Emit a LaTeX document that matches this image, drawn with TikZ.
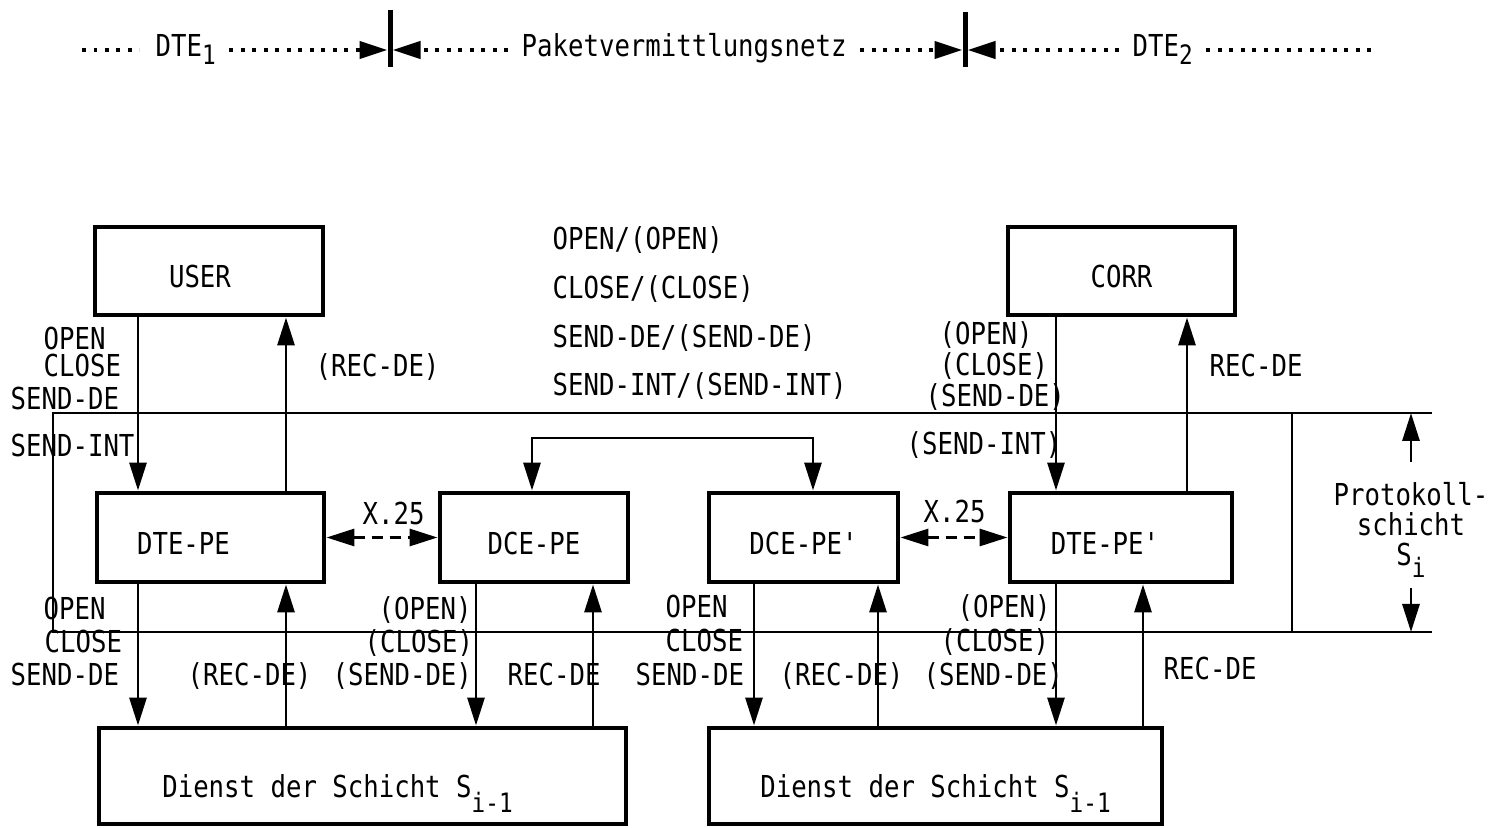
\documentclass[tikz,border=0pt]{standalone}
\usepackage{fontspec}
\setmonofont{DejaVu Sans Mono}[FakeStretch=0.85]
\usetikzlibrary{arrows.meta, positioning}

\newcommand{\tief}[2][1.5mm]{\raisebox{-#1}{\fontsize{7.6}{8}\selectfont #2}}

\tikzset{
  block/.style={draw, line width=1.4pt, inner sep=0pt, text height=3.6mm, text depth=0.2mm},
  dienst/.style={block, minimum height=9.6mm, text height=4.4mm},
  lbl/.style={inner sep=0pt, anchor=base west},
  toplbl/.style={inner xsep=1.3mm, inner ysep=0pt, anchor=base west},
  conn/.style={line width=0.85pt},
  layer/.style={line width=0.75pt},
  dotline/.style={line width=0.4mm, dash pattern=on 0.4mm off 0.75mm, shorten >=0.25mm},
  xfuenf/.style={conn, dash pattern=on 1.1mm off 0.7mm},
}

\begin{document}
\begin{tikzpicture}[x=0.1mm, y=-0.1mm, >={Triangle[length=2.8mm,width=1.7mm]},
    every node/.style={font=\ttfamily\fontsize{8.6}{9}\selectfont}]
    \useasboundingbox (0,0) rectangle (1510,828);

    % Kopfzeile DTE / Netz / DTE
    \coordinate (ya) at (0,50);
    \coordinate (d0) at (82,50);
    \coordinate (barA) at (390,50);
    \coordinate (barB) at (965,50);
    \coordinate (d9) at (1377,50);
    \node[toplbl] (dteA) at (142,57) {DTE\tief[0.8mm]{1}};
    \node[toplbl] (netz) at (508,57) {Paketvermittlungsnetz};
    \node[toplbl] (dteB) at (1119,57) {DTE\tief[0.8mm]{2}};
    \draw[dotline] (d0) -- (dteA.west |- ya);
    \draw[dotline,->] (dteA.east |- ya) -- (barA);
    \draw[dotline,->] (netz.west |- ya) -- (barA);
    \draw[dotline,->] (netz.east |- ya) -- (barB);
    \draw[dotline,->] (dteB.west |- ya) -- (barB);
    \draw[dotline] (dteB.east |- ya) -- (d9);
    \draw[line width=0.5mm] (barA) ++(0,-40) -- ++(0,57);
    \draw[line width=0.5mm] (barB) ++(0,-38) -- ++(0,55);

    % Kaesten
    \node[block, minimum width=22.8mm, minimum height=8.8mm] (user) at (209,271) {USER\hspace*{1.8mm}};
    \node[block, minimum width=22.7mm, minimum height=8.8mm] (corr) at (1121.5,271) {CORR};
    \node[block, minimum width=22.7mm, minimum height=8.9mm] (dtepe) at (210.5,537.5) {DTE-PE\hspace*{5.4mm}};
    \node[block, minimum width=18.8mm, minimum height=8.9mm] (dcepe) at (534,537.5) {DCE-PE};
    \node[block, minimum width=18.9mm, minimum height=8.9mm] (dcepeB) at (803.5,537.5) {DCE-PE'};
    \node[block, minimum width=22.2mm, minimum height=8.9mm] (dtepeB) at (1121,537.5) {DTE-PE'\hspace*{3.2mm}};
    \node[dienst, minimum width=52.7mm] (dienstA) at (362.5,776) {Dienst der Schicht S\tief{i-1}\hspace*{5mm}};
    \node[dienst, minimum width=45.3mm] (dienstB) at (935.5,776) {Dienst der Schicht S\tief{i-1}};

    % Protokollschicht
    \coordinate (lt) at (53,413);
    \coordinate (rt) at (1432,413);
    \coordinate (lb) at (53,632);
    \coordinate (rb) at (1432,632);
    \coordinate (vr) at (1292,0);
    \coordinate (pa) at (1411,462);
    \coordinate (pb) at (1411,588);
    \draw[layer] (rt) -- (lt) -- (lb) -- (rb);
    \draw[layer] (lt -| vr) -- (lb -| vr);
    \draw[conn,->] (pa) -- (pa |- lt);
    \draw[conn,->] (pb) -- (pb |- lb);
    \node[align=center, inner sep=0pt, font=\ttfamily\fontsize{8.6}{8.6}\selectfont] (proto) at (1411,530) {Protokoll-\\schicht\\S\tief[1.2mm]{i}};

    % Spalten der Pfeile
    \coordinate (xa) at (138,0);
    \coordinate (xb) at (286,0);
    \coordinate (xc) at (476,0);
    \coordinate (xd) at (593,0);
    \coordinate (xe) at (754,0);
    \coordinate (xf) at (878,0);
    \coordinate (xg) at (1056,0);
    \coordinate (xh) at (1187,0);
    \coordinate (xi) at (1143,0);
    \coordinate (xj) at (532,0);
    \coordinate (xk) at (813,0);
    \coordinate (bridge) at (672,438);

    \draw[conn,->] (user.south -| xa) -- (dtepe.north -| xa);
    \draw[conn,->] (dtepe.north -| xb) -- (user.south -| xb);
    \draw[conn,->] (corr.south -| xg) -- (dtepeB.north -| xg);
    \draw[conn,->] (dtepeB.north -| xh) -- (corr.south -| xh);
    \draw[conn,->] (dtepe.south -| xa) -- (dienstA.north -| xa);
    \draw[conn,->] (dienstA.north -| xb) -- (dtepe.south -| xb);
    \draw[conn,->] (dcepe.south -| xc) -- (dienstA.north -| xc);
    \draw[conn,->] (dienstA.north -| xd) -- (dcepe.south -| xd);
    \draw[conn,->] (dcepeB.south -| xe) -- (dienstB.north -| xe);
    \draw[conn,->] (dienstB.north -| xf) -- (dcepeB.south -| xf);
    \draw[conn,->] (dtepeB.south -| xg) -- (dienstB.north -| xg);
    \draw[conn,->] (dienstB.north -| xi) -- (dtepeB.south -| xi);
    \draw[conn,<->] (dcepe.north -| xj) |- (bridge) -| (dcepeB.north -| xk);

    % X.25
    \draw[xfuenf,<->] (dtepe.east) -- (dcepe.west);
    \draw[xfuenf,<->] (dcepeB.east) -- (dtepeB.west);
    \node[lbl] (xA) at (362,525) {X.25};
    \node[lbl] (xB) at (923,523) {X.25};

    % Beschriftung oben
    \node[lbl] (o1) at (43,350) {OPEN};
    \node[lbl] (o2) at (43,377) {CLOSE};
    \node[lbl] (o3) at (10,410) {SEND-DE};
    \node[lbl] (o4) at (10,457) {SEND-INT};
    \node[lbl] (o5) at (315,377) {(REC-DE)};
    \node[lbl] (m1) at (552,250) {OPEN/(OPEN)};
    \node[lbl] (m2) at (552,299) {CLOSE/(CLOSE)};
    \node[lbl] (m3) at (552,348) {SEND-DE/(SEND-DE)};
    \node[lbl] (m4) at (552,396) {SEND-INT/(SEND-INT)};
    \node[lbl] (r1) at (939,345) {(OPEN)};
    \node[lbl] (r2) at (939,376) {(CLOSE)};
    \node[lbl] (r3) at (925,407) {(SEND-DE)};
    \node[lbl] (r4) at (906,455) {(SEND-INT)};
    \node[lbl] (r5) at (1209,377) {REC-DE};

    % Beschriftung unten
    \node[lbl] (u1) at (43,620) {OPEN};
    \node[lbl] (u2) at (44,653) {CLOSE};
    \node[lbl] (u3) at (10,686) {SEND-DE};
    \node[lbl] (u4) at (187,686) {(REC-DE)};
    \node[lbl] (u5) at (378,620) {(OPEN)};
    \node[lbl] (u6) at (364,653) {(CLOSE)};
    \node[lbl] (u7) at (332,686) {(SEND-DE)};
    \node[lbl] (u8) at (507,686) {REC-DE};
    \node[lbl] (v1) at (665,618) {OPEN};
    \node[lbl] (v2) at (665,652) {CLOSE};
    \node[lbl] (v3) at (635,686) {SEND-DE};
    \node[lbl] (v4) at (779,686) {(REC-DE)};
    \node[lbl] (v5) at (957,618) {(OPEN)};
    \node[lbl] (v6) at (940,652) {(CLOSE)};
    \node[lbl] (v7) at (923,686) {(SEND-DE)};
    \node[lbl] (v8) at (1163,680) {REC-DE};
\end{tikzpicture}
\end{document}
